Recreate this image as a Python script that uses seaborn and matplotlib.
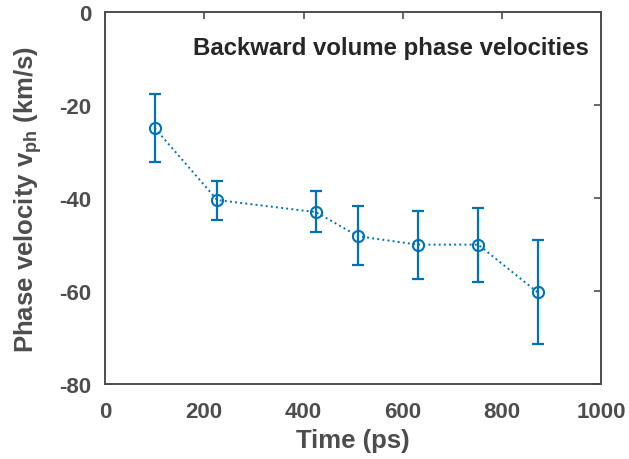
import numpy as np
import pandas as pd
import matplotlib
matplotlib.use("Agg")
import matplotlib.pyplot as plt
import seaborn as sns

# Data
time_ps = [100, 226, 425, 510, 630, 752, 872]
velocity = [-24.9, -40.4, -43.0, -48.2, -50.0, -50.0, -60.3]
err_upper = [-17.5, -36.4, -38.5, -41.7, -42.8, -42.1, -49.0]
err_lower = [-32.2, -44.7, -47.3, -54.4, -57.3, -58.1, -71.3]

df = pd.DataFrame({"time": time_ps, "vph": velocity})

sns.set_style("white")
plt.rcParams["font.family"] = ["Liberation Sans", "DejaVu Sans"]
plt.rcParams["axes.unicode_minus"] = False
plt.rcParams["mathtext.fontset"] = "custom"
plt.rcParams["mathtext.rm"] = "Liberation Sans:bold"
plt.rcParams["mathtext.it"] = "Liberation Sans:bold"
plt.rcParams["mathtext.bf"] = "Liberation Sans:bold"

blue = "#0072BD"
grey = "#4D4D4D"

fig = plt.figure(figsize=(6.29, 4.6), dpi=100)
ax = fig.add_axes([0.167, 0.163, 0.789, 0.808])

yerr = np.array([np.array(velocity) - np.array(err_lower),
                 np.array(err_upper) - np.array(velocity)])
ax.errorbar(df["time"], df["vph"], yerr=yerr, fmt="none", ecolor=blue,
            elinewidth=1.6, capsize=4, capthick=1.6, zorder=2)
sns.lineplot(data=df, x="time", y="vph", ax=ax, color=blue, linestyle=":",
             linewidth=1.4, marker="o", markersize=8, markerfacecolor="none",
             markeredgecolor=blue, markeredgewidth=1.5, zorder=3)

ax.set_xlim(0, 1000)
ax.set_ylim(-80, 0)
ax.set_xticks([0, 200, 400, 600, 800, 1000])
ax.set_yticks([-80, -60, -40, -20, 0])
ax.tick_params(direction="in", length=5, width=1.2, colors=grey,
               labelsize=16, top=True, right=True)
ax.tick_params(axis="x", pad=12)
ax.tick_params(axis="y", pad=10)
for lab in ax.get_xticklabels() + ax.get_yticklabels():
    lab.set_fontweight("bold")
for sp in ax.spines.values():
    sp.set_color(grey)
    sp.set_linewidth(1.4)

ax.set_xlabel("Time (ps)", fontsize=18.5, fontweight="bold", color=grey)
ax.set_ylabel(r"Phase velocity v$_{\mathrm{ph}}$ (km/s)", fontsize=18.5,
              fontweight="bold", color=grey)
ax.xaxis.set_label_coords(0.5, -0.118)
ax.yaxis.set_label_coords(-0.123, 0.5)
ax.text(0.974, 0.905, "Backward volume phase velocities", transform=ax.transAxes,
        ha="right", va="center", fontsize=17.3, fontweight="bold", color="#262626")

fig.savefig("out.png", dpi=100)
